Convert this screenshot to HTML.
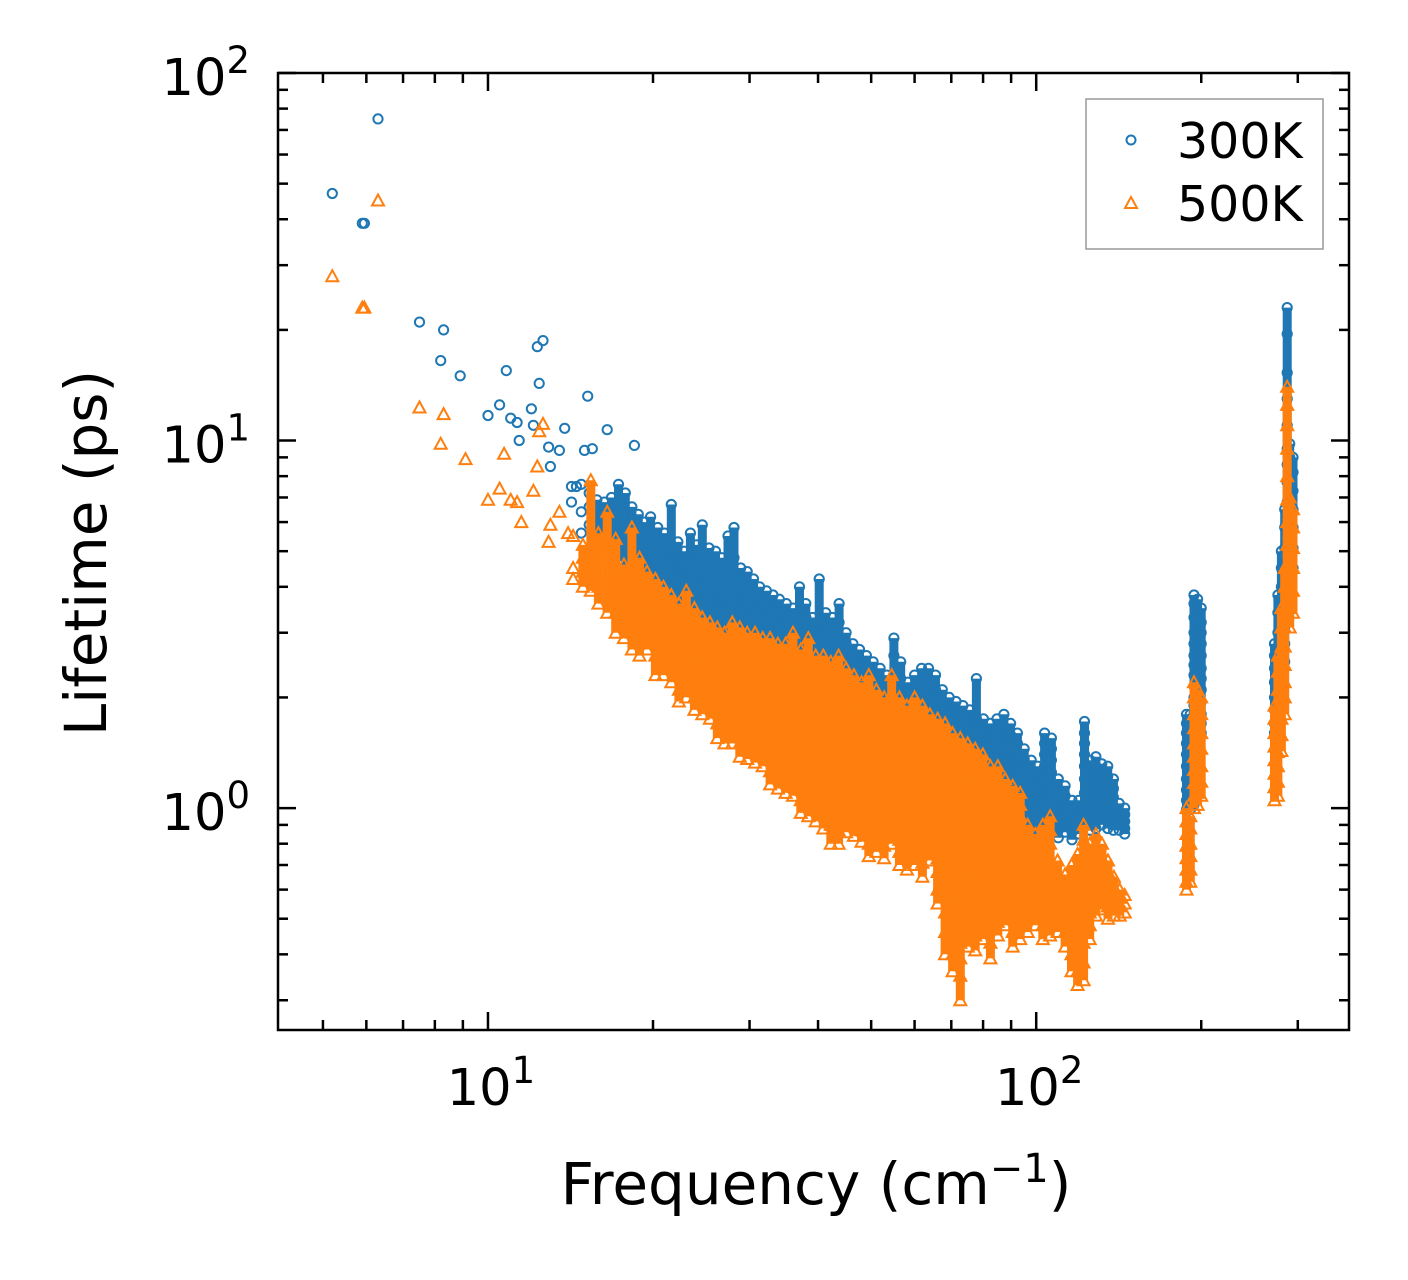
<!DOCTYPE html>
<html><head><meta charset="utf-8"><style>
html,body{margin:0;padding:0;background:#fff;}
svg{display:block;font-family:"DejaVu Sans","Liberation Sans",sans-serif;}
</style></head><body>
<svg id="chart" width="1408" height="1280" viewBox="0 0 1408 1280" xmlns="http://www.w3.org/2000/svg">
<rect width="1408" height="1280" fill="#fff"/>
<g id="marks300"></g>
<g id="marks500"></g>
<g id="axes"></g>
<rect x="278" y="73" width="1071" height="957" fill="none" stroke="#000" stroke-width="2.5"/>
<text transform="translate(106,553) rotate(-90)" text-anchor="middle" font-size="58">Lifetime (ps)</text>
<text x="816" y="1204" text-anchor="middle" font-size="58">Frequency (cm<tspan dy="-22" font-size="40">−1</tspan><tspan dy="22">)</tspan></text>
<g>
<rect x="1086" y="99" width="237" height="150" fill="#fff" stroke="#999" stroke-width="1.5"/>
<circle cx="1131" cy="140" r="4.5" fill="none" stroke="#1f77b4" stroke-width="2"/>
<text x="1177" y="158" font-size="49">300K</text>
<path d="M1131,197 L1137,208 L1125,208 Z" fill="none" stroke="#ff7f0e" stroke-width="2"/>
<text x="1177" y="221" font-size="49">500K</text>
</g>
</svg>
<script>
const xTickValues=[10,100];
const xTickLabels=["1","2"];
const yTickValues=[1,10,100];
const yTickLabels=["0","1","2"];
const xMinorValues=[5,6,7,8,9,20,30,40,50,60,70,80,90,200,300];
const yMinorValues=[0.3,0.4,0.5,0.6,0.7,0.8,0.9,2,3,4,5,6,7,8,9,20,30,40,50,60,70,80,90];

const sparse300F=[5.2,5.9,5.95,6.3,7.5,8.2,8.3,8.9,10.0,10.5,10.8,11.0,11.3,11.4,12.0,12.1,12.3,12.4,12.6,12.9,13.0,13.5,13.8,14.5,15.0,15.2,15.5,16.5,18.5];
const sparse300L=[47,39,39,75,21,16.5,20,15,11.7,12.5,15.5,11.5,11.2,10,12.2,11,18,14.3,18.7,9.6,8.5,9.4,10.8,7.5,9.4,13.2,9.5,10.7,9.7];
const group300F=[14.2,14.8,15.3,15.8,16.3,16.8,17.3,17.8,18.3,18.8,19.3,19.8,20.4,21.0,21.6,22.2,22.8,23.4,24.0,24.6,25.3,26.0,26.7,27.4,28.1,28.9,29.7,30.5,31.3,32.2,33.1,34.0,35.0,36.0,37.0,38.0,39.1,40.2,41.3,42.5,43.7,45.0,46.3,47.6,49.0,50.4,51.9,53.4,55.0,56.6,58.3,60.0,61.8,63.6,65.5,67.4,69.4,71.4,73.5,75.6,77.8,80.1,82.4,84.8,87.3,89.8,92.4,95.1,97.9,100.7,103.6,106.6,109.7,112.9,116.2,119.6,122.5,125.4,128.5,131.7,135.0,138.3,141.7,145.0,188,191,194,197,200,272,276,280,284,287,290,294];
const group300L=[[7.5,6.8],[7.6,6.4,5.6],[7.2,6.6,5.9],[6.5,5.8,5.2,6.9],[6.8,6.1,5.5,4.9],[7,6.2,5.6,5.0],[6.5,5.9,5.3,4.7,7.6],[6.2,5.6,5.0,4.5,7.2],[6.6,5.8,5.2,4.6,4.2],[6.3,5.5,4.9,4.4,4.0],[6.0,5.3,4.7,4.2,3.9,5.7],[6.2,5.4,4.8,4.3,3.8],[5.8,5.1,4.6,4.1,3.7],[5.6,5.0,4.5,4.0,3.6,4.8],[6.7,5.2,4.6,4.2,3.8,3.4],[5.3,4.8,4.3,3.9,3.5,4.5],[5.0,4.6,4.2,3.8,3.4,3.2],[5.6,4.9,4.4,4.0,3.6,3.3],[5.2,4.7,4.2,3.8,3.5,3.1],[5.9,5.0,4.5,4.1,3.7,3.4,3.0],[5.1,4.6,4.2,3.8,3.5,3.2,2.9],[5.0,4.5,4.1,3.7,3.4,3.1,2.8],[4.8,4.3,3.9,3.6,3.3,3.0,2.8],[5.5,4.6,4.2,3.8,3.5,3.2,2.9,2.7],[5.8,4.8,4.3,3.9,3.6,3.3,3.0,2.7],[4.5,4.0,3.7,3.4,3.1,2.9,2.6],[4.4,4.0,3.6,3.3,3.0,2.8,2.5,2.3],[4.2,3.8,3.5,3.2,2.9,2.7,2.5,2.3],[4.0,3.7,3.4,3.1,2.9,2.7,2.4,2.2],[3.9,3.6,3.3,3.0,2.8,2.6,2.4,2.2],[3.8,3.5,3.2,3.0,2.7,2.5,2.3,2.1],[3.7,3.4,3.1,2.9,2.7,2.5,2.3,2.1],[3.6,3.3,3.0,2.8,2.6,2.4,2.2,2.0],[3.5,3.2,3.0,2.8,2.6,2.4,2.2,2.0,1.85],[4.0,3.4,3.1,2.9,2.7,2.5,2.3,2.1,1.9],[3.6,3.3,3.0,2.8,2.6,2.4,2.2,2.0,1.8],[3.3,3.1,2.9,2.7,2.5,2.3,2.1,1.95,1.8],[4.2,3.2,3.0,2.8,2.6,2.4,2.2,2.0,1.85,1.7],[3.4,3.1,2.9,2.7,2.5,2.3,2.1,1.95,1.8],[3.3,3.0,2.8,2.6,2.4,2.2,2.0,1.85,1.7],[3.6,3.2,2.9,2.7,2.5,2.3,2.1,1.95,1.8,1.65],[3.0,2.8,2.6,2.4,2.2,2.05,1.9,1.75,1.6],[2.8,2.6,2.4,2.25,2.1,1.95,1.8,1.65,1.55],[2.7,2.5,2.35,2.2,2.05,1.9,1.75,1.6,1.5],[2.6,2.4,2.25,2.1,1.95,1.8,1.65,1.55],[2.5,2.35,2.2,2.05,1.9,1.75,1.6,1.5,1.4],[2.4,2.25,2.1,1.95,1.8,1.65,1.55,1.45],[2.3,2.15,2.0,1.9,1.75,1.6,1.5,1.4],[2.9,2.6,2.3,2.15,2.0,1.85,1.7,1.6,1.5,1.4],[2.5,2.25,2.1,1.95,1.8,1.7,1.6,1.5,1.4],[2.2,2.05,1.95,1.85,1.75,1.65,1.55,1.45,1.35],[2.3,2.15,2.0,1.9,1.8,1.7,1.6,1.5,1.4,1.3],[2.4,2.2,2.05,1.9,1.8,1.7,1.6,1.5,1.4],[2.4,2.25,2.1,1.95,1.85,1.75,1.65,1.55,1.45,1.35],[2.3,2.1,1.95,1.85,1.75,1.65,1.55,1.45,1.35],[2.1,1.95,1.85,1.75,1.65,1.55,1.45,1.35,1.28],[2.0,1.9,1.8,1.7,1.6,1.5,1.42,1.34,1.26],[1.95,1.85,1.75,1.65,1.55,1.47,1.39,1.31],[1.9,1.8,1.7,1.6,1.5,1.42,1.34,1.26,1.2],[1.85,1.75,1.65,1.56,1.48,1.4,1.32,1.24],[2.25,1.75,1.66,1.57,1.49,1.41,1.33,1.25,1.18],[1.75,1.66,1.57,1.49,1.41,1.33,1.25,1.18,1.12],[1.7,1.6,1.52,1.44,1.36,1.28,1.2,1.13],[1.75,1.62,1.53,1.45,1.37,1.29,1.21,1.14,1.08],[1.8,1.65,1.55,1.46,1.37,1.28,1.2,1.12,1.05],[1.7,1.58,1.48,1.39,1.3,1.22,1.14,1.06,1.0],[1.6,1.5,1.41,1.32,1.24,1.16,1.08,1.01,0.95],[1.45,1.36,1.28,1.2,1.12,1.05,0.98,0.92],[1.35,1.27,1.19,1.11,1.04,0.97,0.9,0.85],[1.3,1.22,1.14,1.06,0.99,0.93,0.87],[1.6,1.5,1.4,1.3,1.2,1.1,1.02,0.95,0.88],[1.55,1.45,1.35,1.25,1.15,1.06,0.98,0.91],[1.2,1.12,1.05,0.98,0.92,0.87,0.83],[1.15,1.08,1.01,0.95,0.9,0.86],[1.05,1.0,0.95,0.9,0.86,0.82],[1.05,1.0,0.95,0.9,0.85],[1.72,1.6,1.5,1.4,1.3,1.2,1.1,1.02,0.95,0.9],[1.35,1.28,1.21,1.15,1.09,1.03,0.97,0.92,0.87],[1.38,1.3,1.23,1.16,1.1,1.04,0.98,0.93,0.88],[1.32,1.25,1.18,1.12,1.06,1.0,0.95,0.9],[1.3,1.22,1.15,1.08,1.02,0.97,0.92,0.88],[1.2,1.13,1.07,1.01,0.96,0.91,0.87],[1.03,0.98,0.94,0.9,0.87],[1.0,0.96,0.92,0.88,0.85],[1.8,1.7,1.6,1.5,1.4,1.3,1.2,1.12,1.05,0.99],[1.8,1.7,1.6,1.5,1.4,1.3,1.2,1.12,1.05,0.99],[3.8,3.6,3.3,3.0,2.8,2.6,2.45,2.3,2.15,2.0,1.9,1.8,1.7,1.6,1.5,1.4,1.3,1.2,1.1,1.02],[3.7,3.4,3.1,2.9,2.7,2.5,2.35,2.2,2.05,1.95,1.85,1.75,1.65,1.55,1.45,1.35,1.25,1.15],[3.5,3.2,3.0,2.8,2.6,2.4,2.25,2.1,1.95,1.8,1.7,1.6],[2.8,2.6,2.4,2.2,2.0,1.85,1.7,1.6],[3.8,3.4,3.0,2.7,2.4,2.2,2.0,1.8,1.65],[5,4.5,4,3.6,3.2,2.9,2.6,2.3,2.1,1.9],[6.5,5.8,5.1,4.5,4.0,3.5,3.1,2.8,2.5],[23,19.5,15.3,13,11,9.5,8.6,7.7,6.8,6,5.3,4.7],[9.8,9,8.2,7.4,6.6,5.9,5.2,4.6,4.1],[9,8.2,7.3,6.5,5.8,5.1,4.5]];

const sparse500F=[5.2,5.9,5.95,6.3,7.5,8.2,8.3,9.1,10.0,10.5,10.7,11.0,11.3,11.5,12.1,12.3,12.4,12.6,12.9,13.0,13.5,14.0];
const sparse500L=[28,23,23,45,12.3,9.8,11.8,8.9,6.9,7.4,9.2,6.9,6.8,6.0,7.3,8.5,10.6,11.1,5.3,5.9,6.4,5.6];
const group500F=[14.3,14.9,15.4,15.9,16.5,17.1,17.7,18.3,18.9,19.5,20.2,20.9,21.6,22.3,23.0,23.8,24.6,25.4,26.2,27.0,27.9,28.8,29.7,30.7,31.7,32.7,33.8,34.9,36.0,37.2,38.4,39.6,40.9,42.2,43.6,45.0,46.5,48.0,49.5,51.1,52.8,54.5,56.3,58.1,60.0,62.0,64.0,66.1,68.2,70.4,72.7,75.0,77.4,79.9,82.5,85.1,87.8,90.6,93.5,96.5,99.6,102.8,106.0,109.4,112.9,116.0,119.0,122.0,125.2,128.5,131.8,135.2,138.6,142.0,145.0,188,191,194,197,200,272,276,280,284,287,290,294];
const group500L=[[4.5,4.2,5.5],[4.4,4.0,5.2,4.8],[7.8,4.2,3.9,4.7],[5.6,4.3,4.0,3.6],[6.4,4.6,4.0,3.8,3.4],[5.4,4.3,3.8,3.4,3.0],[4.6,4.0,3.6,3.2,2.9],[5.8,4.4,3.8,3.4,3.0,2.7],[4.8,4.1,3.6,3.2,2.9,2.6],[4.4,3.8,3.4,3.0,2.7],[4.2,3.7,3.3,2.9,2.6,2.3],[4.0,3.5,3.1,2.8,2.5,2.3],[3.8,3.4,3.0,2.7,2.4,2.2],[3.6,3.2,2.9,2.6,2.3,2.1,1.95],[3.9,3.4,3.0,2.7,2.4,2.2,2.0],[3.5,3.1,2.8,2.5,2.2,2.0,1.85],[3.3,3.0,2.7,2.4,2.2,2.0,1.8],[3.2,2.9,2.6,2.35,2.15,1.95,1.75],[3.1,2.8,2.55,2.3,2.1,1.9,1.7,1.55],[3.0,2.7,2.45,2.25,2.05,1.85,1.68,1.5],[3.2,2.9,2.65,2.4,2.2,2.0,1.82,1.65,1.5],[3.1,2.7,2.45,2.2,2.0,1.83,1.66,1.5,1.38],[3.0,2.8,2.55,2.32,2.12,1.94,1.77,1.62,1.48,1.36],[3.0,2.7,2.45,2.24,2.05,1.88,1.72,1.58,1.45,1.33],[2.9,2.6,2.38,2.18,2.0,1.83,1.68,1.54,1.41,1.3],[2.9,2.5,2.3,2.1,1.93,1.77,1.62,1.49,1.37,1.26,1.16],[2.8,2.45,2.25,2.06,1.89,1.73,1.59,1.46,1.34,1.23,1.13],[2.8,2.35,2.16,1.98,1.82,1.67,1.53,1.41,1.3,1.2,1.1],[3.0,2.6,2.3,2.1,1.93,1.77,1.63,1.5,1.38,1.27,1.17,1.08],[2.7,2.45,2.2,2.02,1.86,1.71,1.57,1.45,1.34,1.24,1.14,1.05,0.97],[2.9,2.5,2.15,1.98,1.82,1.67,1.54,1.42,1.31,1.21,1.12,1.03,0.95],[2.6,2.35,2.1,1.93,1.78,1.64,1.51,1.39,1.28,1.18,1.09,1.0,0.92],[2.6,2.4,2.2,2.0,1.84,1.69,1.56,1.44,1.33,1.23,1.13,1.04,0.96,0.88],[2.5,2.25,2.0,1.85,1.7,1.57,1.45,1.34,1.24,1.14,1.05,0.97,0.9,0.8],[2.6,2.2,1.95,1.8,1.66,1.53,1.41,1.3,1.2,1.11,1.02,0.94,0.87,0.8],[2.4,2.15,1.9,1.75,1.61,1.49,1.38,1.27,1.17,1.08,1.0,0.93,0.86],[2.3,2.05,1.85,1.7,1.57,1.45,1.34,1.24,1.14,1.05,0.97,0.9,0.84],[2.2,1.95,1.75,1.62,1.5,1.39,1.28,1.18,1.09,1.01,0.94,0.87,0.81],[2.3,2.0,1.8,1.65,1.52,1.4,1.29,1.19,1.1,1.02,0.94,0.87,0.8,0.74],[2.1,1.9,1.7,1.56,1.44,1.33,1.23,1.13,1.04,0.96,0.89,0.82,0.76],[2.0,1.8,1.6,1.48,1.37,1.26,1.16,1.07,0.99,0.92,0.85,0.79,0.73],[2.3,2.05,1.85,1.65,1.5,1.38,1.27,1.17,1.08,1.0,0.93,0.86,0.8],[2.0,1.75,1.55,1.43,1.32,1.22,1.13,1.04,0.96,0.89,0.82,0.76,0.7],[1.9,1.7,1.5,1.39,1.29,1.19,1.1,1.02,0.94,0.87,0.8,0.74,0.68],[2.0,1.75,1.55,1.43,1.32,1.22,1.13,1.04,0.96,0.89,0.82,0.76,0.7],[1.9,1.65,1.45,1.34,1.24,1.15,1.06,0.98,0.9,0.83,0.77,0.71,0.65],[1.8,1.6,1.5,1.38,1.27,1.17,1.08,1.0,0.92,0.85,0.78,0.72],[1.75,1.55,1.4,1.3,1.2,1.11,1.02,0.94,0.87,0.8,0.73,0.67,0.6,0.55],[1.7,1.5,1.35,1.25,1.15,1.06,0.98,0.9,0.83,0.76,0.7,0.64,0.58,0.52,0.46,0.4],[1.6,1.45,1.3,1.2,1.1,1.01,0.93,0.86,0.79,0.72,0.66,0.6,0.55,0.5,0.45,0.4,0.36],[1.55,1.4,1.25,1.15,1.06,0.98,0.9,0.83,0.76,0.7,0.64,0.58,0.53,0.48,0.43,0.39,0.35,0.3],[1.5,1.35,1.2,1.1,1.02,0.94,0.86,0.79,0.72,0.66,0.6,0.55,0.5,0.46,0.42],[1.45,1.35,1.2,1.1,1.01,0.93,0.85,0.78,0.71,0.65,0.59,0.54,0.49,0.45,0.41],[1.4,1.25,1.15,1.06,0.98,0.9,0.83,0.76,0.7,0.64,0.58,0.53,0.48,0.44],[1.3,1.2,1.12,1.03,0.95,0.87,0.8,0.73,0.67,0.61,0.56,0.51,0.47,0.43,0.39],[1.3,1.2,1.1,1.01,0.93,0.85,0.78,0.71,0.65,0.59,0.54,0.49,0.45],[1.2,1.12,1.05,0.97,0.89,0.82,0.75,0.69,0.63,0.57,0.52,0.48],[1.15,1.07,1.0,0.92,0.85,0.78,0.72,0.66,0.6,0.55,0.5,0.46,0.42],[1.1,1.02,0.95,0.88,0.81,0.75,0.69,0.63,0.58,0.53,0.48,0.44],[0.9,0.83,0.77,0.71,0.65,0.6,0.55,0.5,0.46],[0.85,0.79,0.73,0.67,0.62,0.57,0.52,0.48],[0.9,0.83,0.76,0.7,0.64,0.58,0.53,0.48,0.44],[0.95,0.87,0.8,0.73,0.67,0.61,0.55,0.5,0.45],[0.72,0.66,0.6,0.55,0.5,0.46],[0.66,0.61,0.56,0.51,0.46,0.42],[0.7,0.64,0.58,0.53,0.48,0.44,0.4,0.36],[0.75,0.68,0.62,0.56,0.5,0.45,0.4,0.36,0.33],[0.9,0.82,0.74,0.67,0.6,0.54,0.48,0.43,0.38,0.34],[0.8,0.74,0.68,0.62,0.57,0.52,0.48,0.44],[0.85,0.78,0.71,0.65,0.6,0.55,0.51],[0.8,0.73,0.67,0.62,0.57,0.53],[0.72,0.67,0.62,0.58,0.54,0.5],[0.65,0.61,0.57,0.54,0.51],[0.6,0.57,0.54,0.51],[0.58,0.55,0.52],[1.0,0.92,0.85,0.79,0.73,0.68,0.63,0.6],[0.95,0.88,0.8,0.74,0.68,0.63],[2.2,2.0,1.8,1.65,1.5,1.38,1.27,1.17,1.08,1.0],[2.1,1.9,1.72,1.57,1.43,1.31,1.2,1.1,1.02],[2.0,1.8,1.6,1.45,1.3,1.18,1.08],[1.9,1.75,1.6,1.47,1.35,1.24,1.14,1.05],[2.6,2.35,2.1,1.9,1.72,1.56,1.42,1.3,1.18,1.08],[3.5,3.1,2.75,2.45,2.2,1.95,1.75,1.58,1.43],[4.5,4.0,3.5,3.1,2.75,2.45,2.2,2.0,1.8],[14,12.5,11,9.5,8,6.9,6,5.2,4.5,3.9,3.4],[7,6.3,5.6,5.0,4.4,3.9,3.5,3.1],[6.5,5.8,5.1,4.5,3.9,3.4]];

const NS="http://www.w3.org/2000/svg";
const X0=278,X1=1349,Y0=73,Y1=1030;
const xMin=Math.log10(4.14),xMax=Math.log10(372);
const yMin=Math.log10(0.249),yMax=2;
function xs(v){return X0+(Math.log10(v)-xMin)/(xMax-xMin)*(X1-X0);}
function ys(v){return Y1-(Math.log10(v)-yMin)/(yMax-yMin)*(Y1-Y0);}

const g3=document.getElementById('marks300');
const g5=document.getElementById('marks500');
function band(g,f,vals,color){
  const b=document.createElementNS(NS,'line');
  const x=xs(f).toFixed(1);
  b.setAttribute('x1',x);b.setAttribute('x2',x);
  b.setAttribute('y1',ys(Math.max(...vals)).toFixed(1));b.setAttribute('y2',ys(Math.min(...vals)).toFixed(1));
  b.setAttribute('stroke',color);b.setAttribute('stroke-width','9');
  
  
  g.appendChild(b);
}
function circ(f,l){
  const c=document.createElementNS(NS,'circle');
  c.setAttribute('cx',xs(f).toFixed(1));c.setAttribute('cy',ys(l).toFixed(1));
  c.setAttribute('r','4.6');c.setAttribute('fill','none');c.setAttribute('stroke','#1f77b4');c.setAttribute('stroke-width','2');
  
  
  g3.appendChild(c);
}
function tri(f,l){
  const x=xs(f),y=ys(l);
  const p=document.createElementNS(NS,'path');
  p.setAttribute('d',`M${x.toFixed(1)},${(y-6).toFixed(1)}L${(x+6).toFixed(1)},${(y+5).toFixed(1)}L${(x-6).toFixed(1)},${(y+5).toFixed(1)}Z`);
  p.setAttribute('fill','none');p.setAttribute('stroke','#ff7f0e');p.setAttribute('stroke-width','2');
  
  
  g5.appendChild(p);
}
group300F.forEach((f,i)=>{if(group300L[i].length>3)band(g3,f,group300L[i],'#1f77b4');});
sparse300F.forEach((f,i)=>circ(f,sparse300L[i]));
group300F.forEach((f,i)=>group300L[i].forEach(l=>circ(f,l)));
group500F.forEach((f,i)=>{if(group500L[i].length>3)band(g5,f,group500L[i],'#ff7f0e');});
sparse500F.forEach((f,i)=>tri(f,sparse500L[i]));
group500F.forEach((f,i)=>group500L[i].forEach(l=>tri(f,l)));

const ax=document.getElementById('axes');
function line(x1,y1,x2,y2,name){
  const l=document.createElementNS(NS,'line');
  l.setAttribute('x1',x1);l.setAttribute('y1',y1);l.setAttribute('x2',x2);l.setAttribute('y2',y2);
  l.setAttribute('stroke','#000');l.setAttribute('stroke-width','2.5');
  
  
  ax.appendChild(l);
}
function lbl(x,y,exp,anchor,name){
  const t=document.createElementNS(NS,'text');
  t.setAttribute('x',x);t.setAttribute('y',y);t.setAttribute('text-anchor',anchor);t.setAttribute('font-size','51');
  t.innerHTML='10<tspan dy="-22" font-size="37">'+exp+'</tspan>';
  
  
  ax.appendChild(t);
}
xTickValues.forEach((v,i)=>{const x=xs(v);line(x,Y1,x,Y1-18,'x-major-tick');line(x,Y0,x,Y0+18,'x-major-tick');lbl(x+3,1105,xTickLabels[i],'middle','x-tick-label');});
xMinorValues.forEach(v=>{const x=xs(v);line(x,Y1,x,Y1-10,'x-minor-tick');line(x,Y0,x,Y0+10,'x-minor-tick');});
yTickValues.forEach((v,i)=>{const y=ys(v);line(X0,y,X0+18,y,'y-major-tick');line(X1,y,X1-18,y,'y-major-tick');lbl(250,y+22,yTickLabels[i],'end','y-tick-label');});
yMinorValues.forEach(v=>{const y=ys(v);line(X0,y,X0+10,y,'y-minor-tick');line(X1,y,X1-10,y,'y-minor-tick');});
</script>
</body></html>
